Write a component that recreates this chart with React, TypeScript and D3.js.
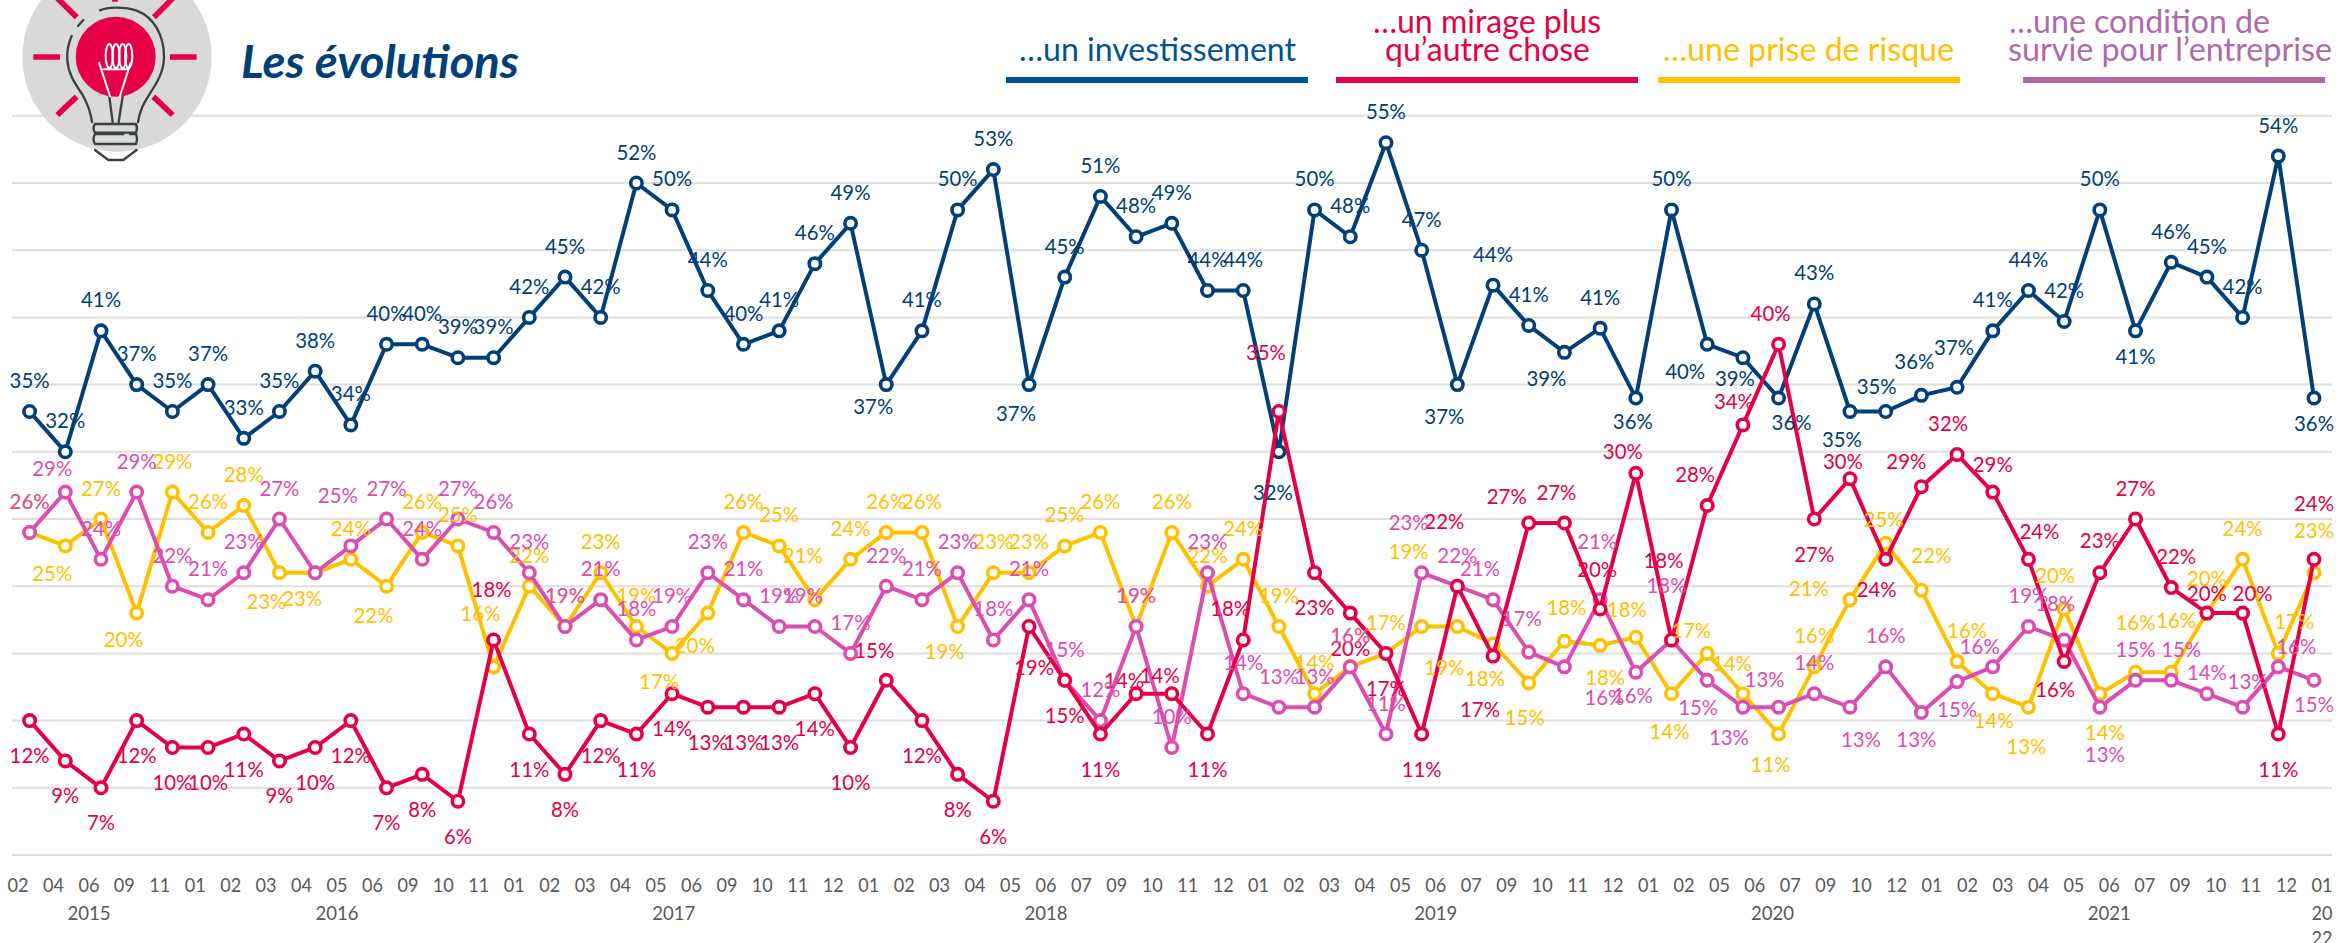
import React from "react";
import * as d3 from "d3";

const WIDTH = 2336;
const HEIGHT = 943;

const tickMonths = ["02","04","06","09","11","01","02","03","04","05","06","09","10","11","01","02","03","04","05","06","09","10","11","12","01","02","03","04","05","06","07","09","10","11","12","01","02","03","04","05","06","07","09","10","11","12","01","02","05","06","07","09","10","12","01","02","03","04","05","06","07","09","10","11","12","01"];
const yearGroups: [string, number, number][] = [["2015",0,4],["2016",5,13],["2017",14,23],["2018",24,34],["2019",35,45],["2020",46,53],["2021",54,64]];
const gridValues = [2,7,12,17,22,27,32,37,42,47,52,57];

const investValues = [35,32,41,37,35,37,33,35,38,34,40,40,39,39,42,45,42,52,50,44,40,41,46,49,37,41,50,53,37,45,51,48,49,44,44,32,50,48,55,47,37,44.4,41.4,39.4,41.2,36,50,40,39,36,43,35,35,36.2,36.8,41,44,41.7,50,41,46.1,45,42,54,36];
const mirageValues = [12,9,7,12,10,10,11,9,10,12,7,8,6,18,11,8,12,11,14,13,13,13,14,10,15,12,8,6,19,15,11,14,14,11,18,35,23,20,17,11,22,16.8,26.7,26.7,20.3,30.4,18,28,34,40,27,30,24,29.4,31.8,29,24,16.4,23,27,21.9,20,20,11,24];
const risqueValues = [26,25,27,20,29,26,28,23,23,24,22,26,25,16,22,19,23,19,17,20,26,25,21,24,26,26,19,23,23,25,26,19,26,22,24,19,14,16,17,19,19,17.7,14.8,17.9,17.6,18.2,14,17,14,11,16,21,25.2,21.7,16.4,14,13,20.3,14,15.6,15.6,20,24,17,23];
const survieValues = [26,29,24,29,22,21,23,27,23,25,27,24,27,26,23,19,21,18,19,23,21,19,19,17,22,21,23,18,21,15,12,19,10,23,14,13,13,16,11,23,22,21,17.1,16,21,15.6,18,15,13,13,14,13,16,12.6,14.9,16,19,18,13,15,15,14,13,16,15];

// label placement, apart from the defaults
type Off = Record<number, [number, number]>;
const investOffsets: Off = {24:[-13,21],28:[-13,28],35:[-6,40],40:[-13,31],43:[-18,25],45:[-3,22],47:[-22,26],48:[-8,20],49:[13,23],51:[-8,27],52:[-9,-26],53:[-7,-35],54:[-3,-41],59:[0,25],64:[0,24]};
const mirageOffsets: Off = {13:[-2,-51],24:[-12,-31],28:[5,40],31:[-12,-14],32:[-12,-19],34:[-13,-32],35:[-13,-60],40:[-13,-66],41:[-13,52],42:[-22,-28],43:[-8,-32],44:[-3,-41],45:[-13,-23],46:[-8,-80],47:[-12,-32],48:[-9,-24],49:[-8,-32],51:[-7,-18],52:[-9,29],53:[-15,-26],54:[-9,-32],55:[0,-29],56:[11,-29],57:[-9,27],58:[0,-33],59:[0,-32],60:[5,-32],61:[0,-21],62:[10,-21],64:[0,-57]};
const risqueOffsets: Off = {1:[-13,27],3:[-13,25],7:[-13,28],8:[-13,25],10:[-13,28],13:[-13,-54],18:[-13,27],19:[-13,31],22:[-12,-45],26:[-13,24],39:[-13,-76],40:[-13,40],41:[-8,34],42:[-4,34],43:[2,-35],44:[5,31],45:[-9,-29],46:[-2,37],47:[-16,-24],48:[-11,-31],49:[-8,29],51:[-41,-12],52:[-2,-25],53:[10,-36],54:[10,-32],55:[1,26],56:[-2,38],57:[-9,-35],58:[5,38],59:[0,-51],60:[5,-53],61:[0,-36],63:[16,-33],64:[0,-43]};
const survieOffsets: Off = {1:[-13,-25],9:[-13,-51],22:[-12,-32],39:[-13,-51],41:[-13,-32],42:[-7,-35],43:[40,30],44:[-3,-59],45:[-3,22],46:[-5,-55],47:[-9,26],48:[-14,29],49:[-14,-29],51:[11,31],53:[-5,26],54:[0,27],55:[-13,-21],57:[-9,-37],58:[5,46],60:[10,-32],61:[0,-22],62:[5,-27],63:[18,-21],64:[0,23]};

const NAVY = "#004077";
const RED = "#E50046";
const YELLOW = "#FFC000";
const PINK = "#DC4DB1";
const FONT = "Lato, 'Open Sans', sans-serif";

type Series = { values: number[]; color: string; offsets: Off; defaultDy: number; hidden: number[] };
const invest: Series = { values: investValues, color: NAVY, offsets: investOffsets, defaultDy: -32, hidden: [] };
const mirage: Series = { values: mirageValues, color: RED, offsets: mirageOffsets, defaultDy: 34, hidden: [] };
const risque: Series = { values: risqueValues, color: YELLOW, offsets: risqueOffsets, defaultDy: -32, hidden: [] };
const survie: Series = { values: survieValues, color: PINK, offsets: survieOffsets, defaultDy: -32, hidden: [8] };

const lineOrder = [invest, risque, survie, mirage];
const labelOrder = [invest, mirage, risque, survie];

const y = d3.scaleLinear().domain([2, 57]).range([855, 115.8]);
const xPoint = d3.scaleLinear().domain([0, 64]).range([29.6, 2314]);
const xTick = d3.scaleLinear().domain([0, 65]).range([18, 2322]);
const line = d3.line<number>().x((_, i) => xPoint(i)).y((d) => y(d));

type LegendLine = { text: string; x1: number; x2: number; y: number };
const legends: { color: string; textColor: string; bar: [number, number]; lines: LegendLine[] }[] = [
  { color: "#005293", textColor: "#005293", bar: [1006, 1308], lines: [{ text: "…un investissement", x1: 1019, x2: 1296, y: 50 }] },
  { color: RED, textColor: RED, bar: [1336, 1638], lines: [{ text: "…un mirage plus", x1: 1373, x2: 1601, y: 22 }, { text: "qu’autre chose", x1: 1385, x2: 1590, y: 50 }] },
  { color: YELLOW, textColor: YELLOW, bar: [1658, 1960], lines: [{ text: "…une prise de risque", x1: 1663, x2: 1954, y: 50 }] },
  { color: "#B069AA", textColor: "#B069AA", bar: [2023, 2325], lines: [{ text: "…une condition de", x1: 2009, x2: 2270, y: 22 }, { text: "survie pour l’entreprise", x1: 2008, x2: 2332, y: 50 }] },
];

function Bulb() {
  const dark = "#3A4242";
  const coilX = [328, 348, 368, 386];
  return (
    <g>
      <circle cx={117} cy={57} r={94.7} fill="#D9D9D9" />
      <circle cx={115.7} cy={56.7} r={40} fill={RED} />
      <g transform="scale(0.3333)">
        <g stroke={RED} strokeWidth={17} fill="none">
          <path d="M100 171H180M510 171H590M172 345L230 290M518 345L460 290M172 -5L230 52M518 -5L462 52M345 -10V5" />
        </g>
        <g stroke={dark} strokeWidth={7} fill="none" strokeLinecap="round" strokeLinejoin="round">
          <path d="M300 31C320 22 370 18 410 32C462 52 492 105 492 170C492 215 470 250 450 280C430 312 420 330 414 366" />
          <path d="M215 108C205 130 200 150 202 180C205 225 228 255 248 285C262 310 272 335 276 366" />
          <path d="M234 78L250 60" />
          <path d="M328 290L338 366M368 290L356 366" />
          <path d="M285 372H408Q414 385 408 398H285Q276 385 285 372M285 402H370M390 402H408Q414 418 408 432H285Q276 418 285 402M285 432H408" />
          <path d="M285 450L325 480H370L410 450" />
        </g>
        <g stroke="#fff" strokeWidth={6} fill="none" strokeLinecap="round">
          {coilX.map((cx) => (
            <ellipse key={cx} cx={cx} cy={168} rx={11} ry={36} />
          ))}
          <path d="M297 188L330 288M392 188L360 288M310 208H385" />
        </g>
      </g>
    </g>
  );
}

export default function App() {
  return (
    <svg width={WIDTH} height={HEIGHT} viewBox={`0 0 ${WIDTH} ${HEIGHT}`} style={{ position: "absolute", left: 0, top: 0, background: "#fff" }} fontFamily={FONT}>
      {gridValues.map((v) => (
        <line key={v} x1={12} x2={2332} y1={y(v)} y2={y(v)} stroke="#DEDEDE" strokeWidth={2} />
      ))}
      <Bulb />
      <text x={241} y={78} fontSize={45} fontWeight={700} fontStyle="italic" fill="#003F78" textLength={278} lengthAdjust="spacingAndGlyphs">Les évolutions</text>

      {legends.map((l) => (
        <g key={l.bar[0]}>
          <rect x={l.bar[0]} y={77} width={l.bar[1] - l.bar[0]} height={6} fill={l.color} />
          {l.lines.map((t) => (
            <text key={t.text} x={t.x1} y={t.y + 11} fontSize={33} fill={l.textColor} textLength={t.x2 - t.x1} lengthAdjust="spacingAndGlyphs">{t.text}</text>
          ))}
        </g>
      ))}

      {lineOrder.map((s) => (
        <g key={s.color}>
          <path d={line(s.values) ?? ""} fill="none" stroke={s.color} strokeWidth={4} strokeLinejoin="round" />
          {s.values.map((v, i) => (
            <circle key={i} cx={xPoint(i)} cy={y(v)} r={5.7} fill="#fff" stroke={s.color} strokeWidth={3.6} />
          ))}
        </g>
      ))}

      {labelOrder.map((s) => (
        <g key={s.color} fontSize={21} fill={s.color} textAnchor="middle">
          {s.values.map((v, i) => {
            if (s.hidden.includes(i)) return null;
            const [dx, dy] = s.offsets[i] ?? [0, s.defaultDy];
            const label = `${Math.round(v)}%`;
            return (
              <text key={i} x={xPoint(i) + dx} y={y(v) + dy} dominantBaseline="central" textLength={label.length === 3 ? 40 : 28} lengthAdjust="spacingAndGlyphs">{label}</text>
            );
          })}
        </g>
      ))}

      <g fontSize={19} fill="#595959" textAnchor="middle">
        {tickMonths.map((m, i) => (
          <text key={i} x={xTick(i)} y={884} dominantBaseline="central" textLength={21} lengthAdjust="spacingAndGlyphs">{m}</text>
        ))}
        {yearGroups.map(([name, a, b]) => (
          <text key={name} x={(xTick(a) + xTick(b)) / 2} y={912.5} dominantBaseline="central" textLength={43} lengthAdjust="spacingAndGlyphs">{name}</text>
        ))}
        <text x={xTick(65)} y={912.5} dominantBaseline="central" textLength={21} lengthAdjust="spacingAndGlyphs">20</text>
        <text x={xTick(65)} y={937} dominantBaseline="central" textLength={21} lengthAdjust="spacingAndGlyphs">22</text>
      </g>
    </svg>
  );
}
